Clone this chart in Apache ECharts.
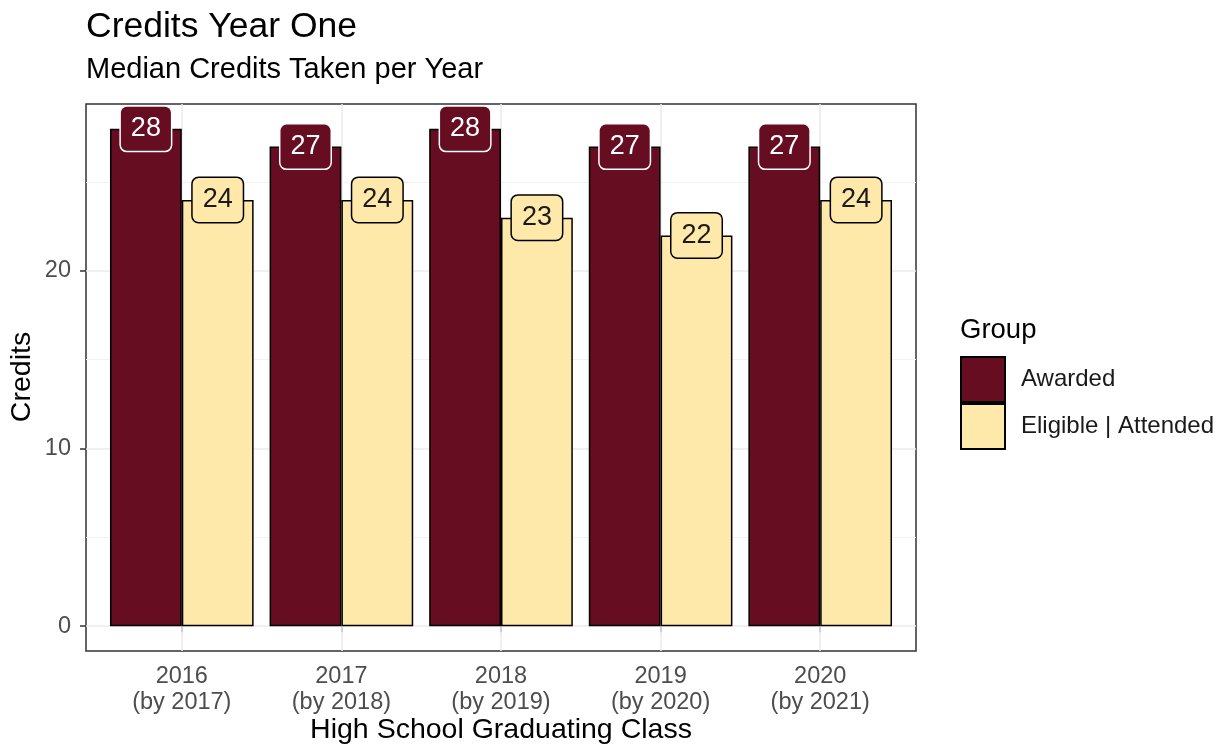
<!DOCTYPE html>
<html>
<head>
<meta charset="utf-8">
<script src="https://cdn.jsdelivr.net/npm/echarts@6/dist/echarts.min.js"></script>
<style>
html,body{margin:0;padding:0;background:#fff;}
#chart{width:1225px;height:754px;}
</style>
</head>
<body>
<div id="chart"></div>
<script>
const categories = ['2016\n(by 2017)', '2017\n(by 2018)', '2018\n(by 2019)', '2019\n(by 2020)', '2020\n(by 2021)'];
const awarded = [28, 27, 28, 27, 27];
const eligible = [24, 24, 23, 22, 24];
const seriesNames = ['Awarded', 'Eligible | Attended'];
const yMajorTicks = [0, 10, 20];
const yMinorTicks = [5, 15, 25];
const yMin = -1.4, yMax = 29.4;

const FONT = '"Liberation Sans", Arial, sans-serif';
const MAROON = '#660d22';
const CREAM = '#fee8aa';

const chart = echarts.init(document.getElementById('chart'), null, {renderer: 'canvas'});

function barLabel(bg, border, fg) {
  return {
    show: true,
    position: ['50%', 0],
    align: 'center',
    verticalAlign: 'middle',
    fontFamily: FONT,
    fontSize: 27,
    lineHeight: 26,
    color: fg,
    backgroundColor: bg,
    borderColor: border,
    borderWidth: 1.5,
    borderRadius: 6,
    padding: [9, 10]
  };
}

const option = {
  animation: false,
  backgroundColor: '#ffffff',
  grid: [
    {left: 102, right: 325, top: 104, bottom: 103, containLabel: false},
    {left: 86, right: 309, top: 104, bottom: 103, show: true, borderColor: '#333333', borderWidth: 1.5, backgroundColor: 'transparent', z: 0}
  ],
  xAxis: [
    {
      type: 'category', gridIndex: 0, data: categories,
      axisLine: {show: false},
      axisTick: {show: true, alignWithLabel: true, length: 6, lineStyle: {color: '#333333', width: 1.5}},
      axisLabel: {margin: 13, fontFamily: FONT, fontSize: 23.5, lineHeight: 26, color: '#4d4d4d'},
      splitLine: {show: false}
    },
    {type: 'value', gridIndex: 1, min: 0, max: 1, show: false}
  ],
  yAxis: [
    {type: 'value', gridIndex: 0, min: yMin, max: yMax, show: false},
    {
      type: 'value', gridIndex: 1, min: yMin, max: yMax,
      axisLine: {show: false},
      axisTick: {show: true, length: 6, customValues: yMajorTicks, lineStyle: {color: '#333333', width: 1.5}},
      axisLabel: {show: true, margin: 15, customValues: yMajorTicks, fontFamily: FONT, fontSize: 23.5, color: '#4d4d4d'},
      splitLine: {show: false}
    }
  ],
  legend: {
    left: 955, top: 351, orient: 'vertical',
    itemWidth: 44, itemHeight: 45, itemGap: 0,
    icon: 'rect', selectedMode: false,
    data: seriesNames,
    textStyle: {fontFamily: FONT, fontSize: 24, color: '#1a1a1a', padding: [0, 0, 0, 11]}
  },
  graphic: [
    {type: 'text', left: 86, top: 9, style: {text: 'Credits Year One', fontFamily: FONT, fontSize: 35.5, fill: '#000'}},
    {type: 'text', left: 86, top: 55, style: {text: 'Median Credits Taken per Year', fontFamily: FONT, fontSize: 29, fill: '#000'}},
    {type: 'text', x: 501, y: 730, style: {text: 'High School Graduating Class', fontFamily: FONT, fontSize: 28.5, fill: '#000', align: 'center', verticalAlign: 'middle'}},
    {type: 'text', x: 22, y: 377, rotation: Math.PI / 2, style: {text: 'Credits', fontFamily: FONT, fontSize: 28.5, fill: '#000', align: 'center', verticalAlign: 'middle'}},
    {type: 'text', x: 960, y: 330, style: {text: 'Group', fontFamily: FONT, fontSize: 27.5, fill: '#000', align: 'left', verticalAlign: 'middle'}}
  ],
  series: [
    {
      type: 'line', xAxisIndex: 1, yAxisIndex: 1, data: [], silent: true, z: 1,
      markLine: {
        silent: true, symbol: 'none', z: 1, label: {show: false},
        data: yMajorTicks.map(v => ({yAxis: v, lineStyle: {color: '#ebebeb', width: 1.6, type: 'solid'}}))
          .concat(yMinorTicks.map(v => ({yAxis: v, lineStyle: {color: '#f2f2f2', width: 1, type: 'solid'}})))
      }
    },
    {
      type: 'line', xAxisIndex: 0, yAxisIndex: 0, data: [], silent: true, z: 1,
      markLine: {
        silent: true, symbol: 'none', z: 1, label: {show: false},
        data: categories.map(c => ({xAxis: c, lineStyle: {color: '#ebebeb', width: 1.6, type: 'solid'}}))
      }
    },
    {
      name: seriesNames[0], type: 'bar', xAxisIndex: 0, yAxisIndex: 0, z: 3,
      data: awarded, barGap: '0%', barCategoryGap: '10%',
      itemStyle: {color: MAROON, borderColor: '#000', borderWidth: 1.5},
      label: barLabel(MAROON, '#ffffff', '#ffffff')
    },
    {
      name: seriesNames[1], type: 'bar', xAxisIndex: 0, yAxisIndex: 0, z: 3,
      data: eligible, barGap: '0%', barCategoryGap: '10%',
      itemStyle: {color: CREAM, borderColor: '#000', borderWidth: 1.5},
      label: barLabel(CREAM, '#000000', '#1a1a1a')
    }
  ]
};
chart.setOption(option);
</script>
</body>
</html>
